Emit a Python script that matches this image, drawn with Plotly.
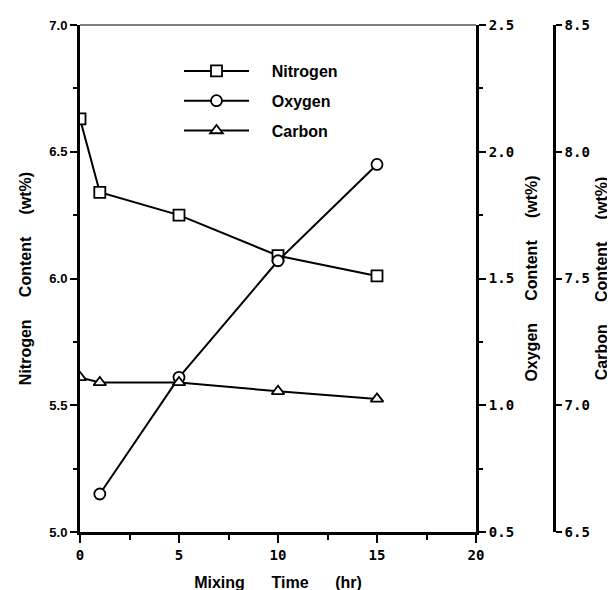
import plotly.graph_objects as go

# ---- data ----
mixing_time = [0, 1, 5, 10, 15]
nitrogen = [6.63, 6.34, 6.25, 6.09, 6.01]
oxygen_time = [1, 5, 10, 15]
oxygen = [0.65, 1.11, 1.57, 1.95]
carbon_time = [0, 1, 5, 10, 15]
carbon = [7.11, 7.09, 7.09, 7.055, 7.025]

series_names = ["Nitrogen", "Oxygen", "Carbon"]

x_ticks = [0, 5, 10, 15, 20]
x_minor = [2.5, 7.5, 12.5, 17.5]
n_ticks = [5.0, 5.5, 6.0, 6.5, 7.0]
n_minor = [5.25, 5.75, 6.25, 6.75]
o_ticks = [0.5, 1.0, 1.5, 2.0, 2.5]
o_minor = [0.75, 1.25, 1.75, 2.25]
c_ticks = [6.5, 7.0, 7.5, 8.0, 8.5]

SANS = "Liberation Sans, Arial, sans-serif"
MONO = "DejaVu Sans Mono, Liberation Mono, monospace"
NB = "\u00a0"


def spaced(words, n):
    return (NB * n).join(words)


fig = go.Figure()

marker_line = dict(color="black", width=1.8)
lead = NB * 4

fig.add_trace(go.Scatter(
    x=mixing_time, y=nitrogen, name=lead + series_names[0], legendgroup="n",
    mode="lines+markers",
    line=dict(color="black", width=2),
    marker=dict(symbol="square", size=11, color="white", line=marker_line),
    yaxis="y",
))
fig.add_trace(go.Scatter(
    x=oxygen_time, y=oxygen, name=lead + series_names[1], legendgroup="o",
    mode="lines+markers",
    line=dict(color="black", width=2),
    marker=dict(symbol="circle", size=11, color="white", line=marker_line),
    yaxis="y2",
))
fig.add_trace(go.Scatter(
    x=carbon_time, y=carbon, name=lead + series_names[2], legendgroup="c",
    mode="lines+markers",
    line=dict(color="black", width=2),
    marker=dict(symbol="triangle-up", size=11, color="white", line=marker_line),
    yaxis="y3",
))

L, R, T, B = 72, 40, 17, 66
W, H = 615, 590
plot_w = W - L - R
plot_h = H - T - B
x_dom_end = (468 - L) / plot_w
carbon_pos = (546 - L) / plot_w

axis_common = dict(
    showgrid=False, zeroline=False, showline=True, linecolor="black",
    ticks="outside", tickcolor="black", automargin=False,
)
title_font = dict(family=SANS, size=16, color="black", weight="bold")

fig.update_layout(
    width=W, height=H,
    margin=dict(l=L, r=R, t=T, b=B, autoexpand=False),
    paper_bgcolor="white", plot_bgcolor="white",
    showlegend=True,
    legend=dict(
        x=(171 - L) / plot_w, y=1 - (46 - T) / plot_h,
        xanchor="left", yanchor="top",
        font=dict(family=SANS, size=16, color="black", weight="bold"),
        bgcolor="rgba(0,0,0,0)", tracegroupgap=6, itemwidth=65,
    ),
    xaxis=dict(
        **axis_common, domain=[0, x_dom_end], range=[0, 20],
        tickvals=x_ticks, ticklen=8, tickwidth=2, linewidth=3,
        minor=dict(tickvals=x_minor, ticklen=5, tickwidth=1.5, ticks="outside", tickcolor="black"),
        tickfont=dict(family=MONO, size=14, color="black", weight="bold"),
        title=dict(text=spaced(["Mixing", "Time", "(hr)"], 6), font=title_font, standoff=16),
    ),
    yaxis=dict(
        **axis_common, range=[5, 7], tickvals=n_ticks, tickformat=".1f",
        ticklen=7, tickwidth=2, linewidth=3,
        minor=dict(tickvals=n_minor, ticklen=4, tickwidth=1.5, ticks="outside", tickcolor="black"),
        tickfont=dict(family=SANS, size=13, color="black", weight="bold"),
        title=dict(text=spaced(["Nitrogen", "Content", "(wt%)"], 5), font=title_font, standoff=14),
    ),
    yaxis2=dict(
        **axis_common, overlaying="y", side="right", anchor="x",
        range=[0.5, 2.5], tickvals=o_ticks, tickformat=".1f",
        ticklen=7, tickwidth=2, linewidth=3,
        minor=dict(tickvals=o_minor, ticklen=4, tickwidth=1.5, ticks="outside", tickcolor="black"),
        tickfont=dict(family=MONO, size=14, color="black", weight="bold"),
        title=dict(text=spaced(["Oxygen", "Content", "(wt%)"], 5), font=title_font, standoff=13),
    ),
    yaxis3=dict(
        **axis_common, overlaying="y", side="right", anchor="free", position=carbon_pos,
        range=[6.5, 8.5], tickvals=c_ticks, tickformat=".1f",
        ticklen=6, tickwidth=2, linewidth=2.5,
        tickfont=dict(family=MONO, size=14, color="black", weight="bold"),
        title=dict(text=spaced(["Carbon", "Content", "(wt%)"], 5), font=title_font, standoff=6),
    ),
    shapes=[dict(type="line", xref="x domain", yref="y domain",
                 x0=0, x1=1, y0=1, y1=1, line=dict(color="black", width=1))],
)

fig.write_html("out.html")
